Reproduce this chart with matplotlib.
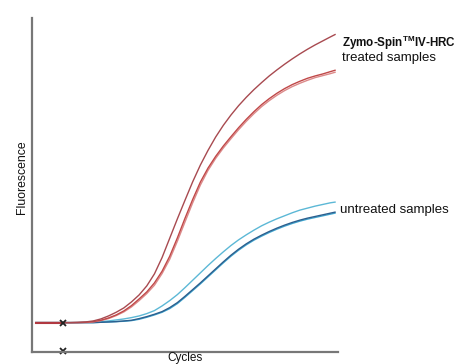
import matplotlib
matplotlib.use("Agg")
import matplotlib.pyplot as plt

# cycles and fluorescence readings (arbitrary units)
cycles = [0.5, 4, 5, 6, 7, 8, 9, 10, 11, 12, 13, 14, 15, 16, 17, 18, 19, 20, 21,
          22, 23, 24, 25, 26, 27, 28, 29, 30, 31, 32, 33, 34, 35, 36, 37, 38, 39, 39.6]

treated_1 = [8.8, 8.8, 8.8, 8.9, 9.0, 9.3, 9.9, 10.8, 11.9, 13.2, 15.0, 17.1, 19.8, 23.4,
             28.3, 34.1, 39.9, 45.5, 51.0, 56.0, 60.4, 64.4, 67.9, 71.0, 73.8, 76.3, 78.6,
             80.7, 82.7, 84.5, 86.2, 87.8, 89.3, 90.7, 92.0, 93.2, 94.4, 95.1]
treated_2 = [8.8, 8.8, 8.8, 8.8, 8.9, 9.1, 9.5, 10.2, 11.1, 12.3, 13.9, 15.9, 18.0, 20.7,
             24.2, 28.7, 34.2, 40.1, 45.7, 50.9, 55.1, 58.6, 61.7, 64.5, 67.2, 69.7, 72.0,
             74.1, 75.9, 77.5, 78.9, 80.1, 81.1, 82.0, 82.7, 83.3, 84.0, 84.4]
treated_3 = [8.8, 8.8, 8.8, 8.8, 8.8, 9.0, 9.4, 10.0, 10.9, 12.0, 13.5, 15.4, 17.5, 20.0,
             23.5, 27.8, 33.2, 39.0, 44.7, 50.0, 54.4, 58.0, 61.1, 63.9, 66.6, 69.1, 71.4,
             73.5, 75.3, 76.9, 78.3, 79.5, 80.5, 81.4, 82.2, 82.8, 83.4, 83.8]

untreated_1 = [8.8, 8.8, 8.8, 8.8, 8.9, 8.9, 9.1, 9.3, 9.6, 9.9, 10.3, 10.8, 11.5, 12.4,
               13.8, 15.4, 17.2, 19.3, 21.5, 23.7, 25.9, 28.0, 30.0, 31.9, 33.6, 35.1, 36.5,
               37.8, 38.9, 39.9, 40.8, 41.7, 42.5, 43.1, 43.7, 44.2, 44.7, 44.9]
untreated_2 = [8.8, 8.8, 8.8, 8.8, 8.8, 8.8, 8.9, 9.0, 9.1, 9.3, 9.5, 10.0, 10.6, 11.3,
               12.1, 13.3, 14.8, 16.7, 18.7, 20.7, 22.8, 24.9, 27.0, 29.0, 30.8, 32.4, 33.8,
               35.0, 36.1, 37.1, 38.0, 38.8, 39.5, 40.1, 40.6, 41.1, 41.6, 41.9]
untreated_3 = [8.8, 8.8, 8.8, 8.8, 8.8, 8.8, 8.9, 9.0, 9.1, 9.2, 9.4, 9.8, 10.4, 11.1,
               11.9, 13.0, 14.5, 16.4, 18.4, 20.4, 22.5, 24.6, 26.7, 28.7, 30.5, 32.1, 33.5,
               34.7, 35.8, 36.8, 37.7, 38.5, 39.2, 39.8, 40.3, 40.8, 41.3, 41.6]

marker_cycle = 4
baseline = 8.8

fig = plt.figure(figsize=(4.61, 3.64), dpi=100)
ax = fig.add_axes([0.0694, 0.033, 0.664, 0.917])

ax.plot(cycles, untreated_1, color="#5cb8d6", lw=1.0)
ax.plot(cycles, untreated_3, color="#3fa6d0", lw=1.0)
ax.plot(cycles, untreated_2, color="#2c5f8e", lw=1.0)
ax.plot(cycles, treated_3, color="#dc8a8a", lw=1.0)
ax.plot(cycles, treated_2, color="#c04848", lw=1.0)
ax.plot(cycles, treated_1, color="#a84a50", lw=1.0)

ax.plot([0.5, marker_cycle], [baseline, baseline], color="#b03840", lw=1.5)
ax.plot(marker_cycle, baseline, marker="x", color="#222222", ms=4, mew=1.3)
ax.plot(marker_cycle, 0.3, marker="x", color="#222222", ms=4, mew=1.3, clip_on=False)

ax.set_xlim(0, 40)
ax.set_ylim(0, 100)
ax.set_xticks([])
ax.set_yticks([])
for s in ["top", "right"]:
    ax.spines[s].set_visible(False)
for s in ["left", "bottom"]:
    ax.spines[s].set_color("#777777")
    ax.spines[s].set_linewidth(1.6)

font = "Liberation Sans"
plt.rcParams["mathtext.fontset"] = "custom"
plt.rcParams["mathtext.rm"] = font
plt.rcParams["mathtext.bf"] = font + ":bold"

fig.text(185 / 461, 1 - 357.5 / 364, "Cycles", ha="center", va="center",
         fontsize=8.5, family=font, color="#111111")
fig.text(0.048, 1 - 177 / 364, "Fluorescence", rotation=90, ha="center", va="center",
         fontsize=8.8, family=font, color="#111111")

fig.text(342 / 461, 1 - 43 / 364, r"Zymo-Spin$^{\mathbf{TM}}$IV-HRC", ha="left", va="center",
         fontsize=8.4, family=font, weight="bold", color="#111111")
fig.text(342 / 461, 1 - 58 / 364, "treated samples", ha="left", va="center",
         fontsize=9.5, family=font, color="#111111")
fig.text(340 / 461, 1 - 210 / 364, "untreated samples", ha="left", va="center",
         fontsize=9.5, family=font, color="#111111")

fig.savefig("out.png", dpi=100)
